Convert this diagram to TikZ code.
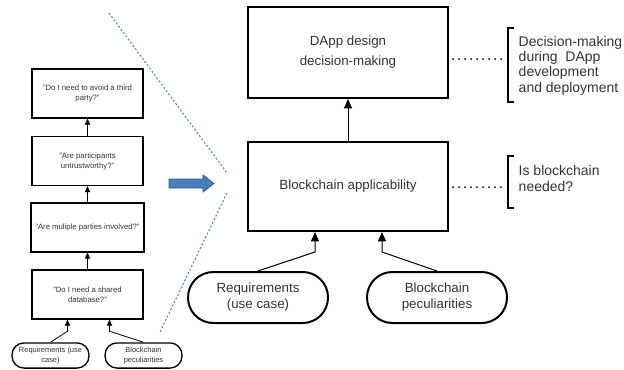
\documentclass[tikz,border=0pt]{standalone}
\usepackage{fontspec}
\setmainfont{Liberation Sans}
\usetikzlibrary{arrows.meta}
\definecolor{txt}{HTML}{333333}
\definecolor{arrowblue}{HTML}{4A7EBB}
\definecolor{arrowedge}{HTML}{2C5A8C}
\definecolor{guide}{HTML}{4F86D0}
\begin{document}
\begin{tikzpicture}[x=0.75pt,y=-0.75pt,
  every node/.style={text=txt},
  bigbox/.style={draw, line width=1.5pt, minimum width=150pt, align=center,
    font=\fontsize{10}{15}\selectfont},
  pill/.style={draw, line width=1.5pt, rounded corners=19pt, minimum width=105pt,
    minimum height=38.25pt, align=center, font=\fontsize{10}{12}\selectfont},
  smallbox/.style={draw, line width=1pt, minimum width=83.25pt, minimum height=36.75pt,
    align=center, font=\fontsize{5.8}{7.5}\selectfont},
  smallpill/.style={draw, line width=1pt, rounded corners=9pt, minimum width=57.75pt,
    minimum height=18.75pt, align=center, font=\fontsize{5.6}{7}\selectfont},
  arr/.style={line width=0.75pt, -{Triangle[width=6pt,length=7pt]}},
  sarr/.style={line width=0.6pt, -{Triangle[width=4pt,length=4.5pt]}},
  dotline/.style={line width=1.5pt, dash pattern=on 0pt off 4.5pt, line cap=round},
  brack/.style={line width=2pt},
  guideline/.style={guide, line width=0.8pt, dash pattern=on 1.5pt off 1.5pt},
  note/.style={anchor=west, align=left, font=\fontsize{10.5}{11.5}\selectfont}]
\useasboundingbox (0,0) rectangle (624,369);

% ---- detailed view (left) ----
\node[smallbox] (q1) at (87.5,93.5) {"Do I need to avoid a third\\party?"};
\node[smallbox] (q2) at (87.5,161) {"Are participants\\untrustworthy?"};
\node[smallbox] (q3) at (87.5,227.5) {"Are muliple parties involved?"};
\node[smallbox] (q4) at (87.5,294.5) {"Do I need a shared\\database?"};
\node[smallpill] (sreq) at (50.5,355.5) {Requirements (use\\case)};
\node[smallpill] (sbp) at (143.5,355.5) {Blockchain\\peculiarities};

\draw[sarr] (q4) -- (q3);
\draw[sarr] (q3) -- (q2);
\draw[sarr] (q2) -- (q1);
\draw[sarr] (sreq.north) -- ++(17,-11) coordinate (s1) -- (s1 |- q4.south);
\draw[sarr] (sbp.north) -- ++(-34,-11) coordinate (s2) -- (s2 |- q4.south);

% ---- zoom guides and transition arrow ----
\coordinate (g1) at (109,13);
\coordinate (g2) at (227,173);
\coordinate (g3) at (227,193);
\coordinate (g4) at (160,332);
\draw[guideline] (g1) -- (g2);
\draw[guideline] (g3) -- (g4);
\draw[fill=arrowblue, draw=arrowedge, line width=0.6pt]
  (169,179) -- (203,179) -- (203,175) -- (214,183.5) -- (203,192) -- (203,188) -- (169,188) -- cycle;

% ---- abstract view (right) ----
\node[bigbox, minimum height=68.25pt] (top) at (348,52.5) {DApp design\\decision-making};
\node[bigbox, minimum height=66.75pt] (app) at (348,186.5) {Blockchain applicability};
\node[pill] (req) at (258,297.5) {Requirements\\(use case)};
\node[pill] (bp) at (437,297.5) {Blockchain\\peculiarities};

\draw[arr] (app) -- (top);
\draw[arr] (req.north) -- ++(57,-19) coordinate (k1) -- (k1 |- app.south);
\draw[arr] (bp.north) -- ++(-55,-19) coordinate (k2) -- (k2 |- app.south);

% ---- annotations ----
\coordinate (b1) at (506,59);
\coordinate (b2) at (506,187);
\draw[dotline] (top.east |- b1) ++(4,0) -- (b1);
\draw[dotline] (app.east |- b2) ++(4,0) -- (b2);
\draw[brack] (514,28) -- (508,28) -- (508,102) -- (514,102);
\draw[brack] (514,156) -- (508,156) -- (508,208) -- (514,208);
\node[note] (n1) at (514,65.5) {Decision-making\\during\ \ DApp\\development\\and deployment};
\node[note] (n2) at (514,178.5) {Is blockchain\\needed?};
\end{tikzpicture}
\end{document}
